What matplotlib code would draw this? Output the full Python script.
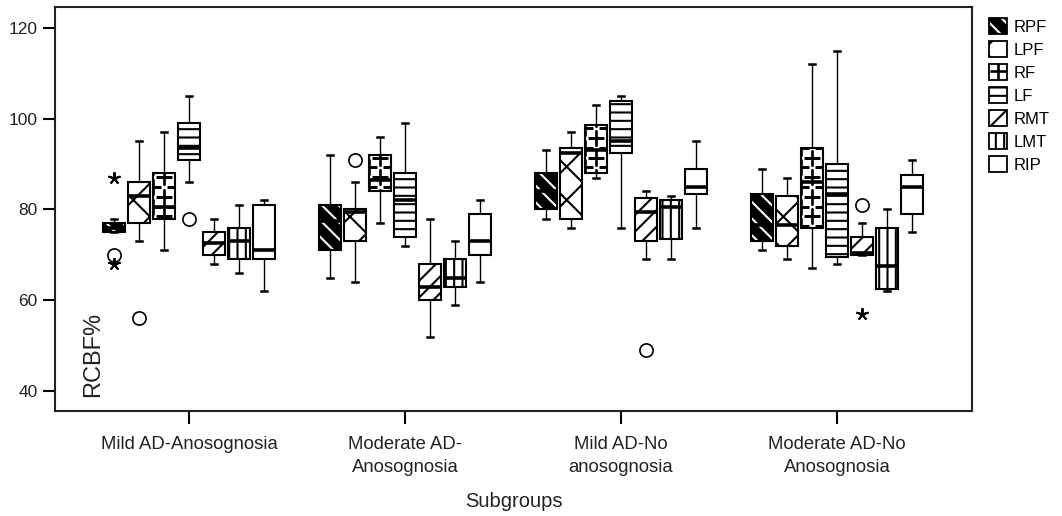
import numpy as np
import matplotlib
matplotlib.use("Agg")
import matplotlib.pyplot as plt
from matplotlib.patches import Patch, PathPatch
from matplotlib.lines import Line2D

plt.rcParams["font.family"] = ["Liberation Sans", "DejaVu Sans"]
plt.rcParams["hatch.linewidth"] = 1.5

# ---- data -------------------------------------------------------------
subgroups = ["Mild AD-Anosognosia", "Moderate AD-\nAnosognosia",
             "Mild AD-No\nanosognosia", "Moderate AD-No\nAnosognosia"]
regions = ["RPF", "LPF", "RF", "LF", "RMT", "LMT", "RIP"]

# rows follow `regions`, columns follow `subgroups`
lower_whisker = [[75, 65, 78, 71],
                 [73, 64, 76, 69],
                 [71, 77, 87, 67],
                 [86, 72, 76, 68],
                 [68, 52, 69, 70],
                 [66, 59, 69, 62],
                 [62, 64, 76, 75]]
q1 = [[75, 71, 80, 73],
      [77, 73, 78, 72],
      [78, 84, 88, 76],
      [91, 74, 92.5, 69.5],
      [70, 60, 73, 70],
      [69, 63, 73.5, 62.5],
      [69, 70, 83.5, 79]]
median = [[76, 77.5, 84, 76.5],
          [83, 79.5, 92.5, 76.5],
          [80.5, 86.5, 93, 86],
          [93.5, 82, 95, 83.5],
          [72.5, 63, 79.5, 70.5],
          [73, 65, 80.5, 67.5],
          [71, 73, 85, 85]]
q3 = [[77, 81, 88, 83.5],
      [86, 80, 93.5, 83],
      [88, 92, 98.5, 93.5],
      [99, 88, 104, 90],
      [75, 68, 82.5, 74],
      [76, 69, 82, 76],
      [81, 79, 89, 87.5]]
upper_whisker = [[78, 92, 93, 89],
                 [95, 86, 97, 87],
                 [97, 96, 103, 112],
                 [105, 99, 105, 115],
                 [78, 78, 84, 77],
                 [81, 73, 83, 80],
                 [82, 82, 95, 91]]

# outliers: (subgroup index, region, value)
outliers_circle = [(0, "RPF", 70), (0, "LPF", 56), (0, "LF", 78),
                   (1, "LPF", 91), (2, "RMT", 49), (3, "RMT", 81)]
outliers_extreme = [(0, "RPF", 87), (0, "RPF", 68), (3, "RMT", 57)]

# ---- styling ----------------------------------------------------------
# face colour, hatch, hatch colour
fills = {
    "RPF": ("black", "\\\\", "white"),
    "LPF": ("white", "x", "black"),
    "RF": ("white", None, "black"),
    "LF": ("white", "--", "black"),
    "RMT": ("white", "//", "black"),
    "LMT": ("white", "||", "black"),
    "RIP": ("white", None, "black"),
}

step = 0.1157
box_w = 0.1
group_x = np.arange(1, len(subgroups) + 1)
offsets = (np.arange(len(regions)) - (len(regions) - 1) / 2) * step

fig = plt.figure(figsize=(10.62, 5.16), dpi=100)
ax = fig.add_axes([55 / 1062, 1 - 411 / 516, 917 / 1062, 404 / 516])

plus_pitch = 4.3
plus_phase = 78.5
plus_style = dict(ls="none", marker="+", ms=11, mew=1.9, color="black")

for k, reg in enumerate(regions):
    stats = []
    for g in range(len(subgroups)):
        stats.append(dict(med=median[k][g], q1=q1[k][g], q3=q3[k][g],
                          whislo=lower_whisker[k][g], whishi=upper_whisker[k][g],
                          fliers=[]))
    face, hatch, hcol = fills[reg]
    pos = group_x + offsets[k]
    res = ax.bxp(stats, positions=pos, widths=box_w, patch_artist=True,
                 showfliers=False, capwidths=0.03, manage_ticks=False,
                 boxprops=dict(facecolor=face, edgecolor=hcol, hatch=hatch, linewidth=0),
                 whiskerprops=dict(color="black", linewidth=1.0),
                 capprops=dict(color="black", linewidth=1.8),
                 medianprops=dict(color="black", linewidth=2.6, solid_capstyle="butt"))
    for w in res["whiskers"] + res["caps"]:
        w.set_zorder(1.5)
    for m in res["medians"]:
        m.set_zorder(4)
    for g, box in enumerate(res["boxes"]):
        box.set_zorder(2)
        ax.add_patch(PathPatch(box.get_path(), fill=False, edgecolor="black",
                               linewidth=1.5, zorder=3, transform=box.get_transform()))
        if reg == "RF":
            lo, hi = q1[k][g], q3[k][g]
            j0 = np.floor((lo - plus_phase) / plus_pitch) - 1
            j1 = np.ceil((hi - plus_phase) / plus_pitch) + 1
            ys = plus_phase + np.arange(j0, j1 + 1) * plus_pitch
            for xs, yy in ((np.full_like(ys, pos[g]), ys),
                           (np.full_like(ys, pos[g] - box_w / 2), ys + plus_pitch / 2),
                           (np.full_like(ys, pos[g] + box_w / 2), ys + plus_pitch / 2)):
                ln, = ax.plot(xs, yy, zorder=2.5, **plus_style)
                ln.set_clip_path(box)

ridx = {r: i for i, r in enumerate(regions)}
for g, reg, v in outliers_circle:
    ax.plot(group_x[g] + offsets[ridx[reg]], v, ls="none", marker="o", ms=9.5,
            mfc="white", mec="black", mew=1.2, zorder=5)
for g, reg, v in outliers_extreme:
    ax.plot(group_x[g] + offsets[ridx[reg]], v, ls="none", marker=(5, 2, 0), ms=9,
            mew=1.4, color="black", zorder=5)

# ---- axes -------------------------------------------------------------
ax.set_xlim(0.38, 4.625)
ax.set_ylim(35.6, 124.6)
ax.set_yticks([40, 60, 80, 100, 120])
ax.set_xticks(group_x)
ax.set_xticklabels(subgroups, fontsize=13.3, color="#222222", linespacing=1.5)
ax.tick_params(axis="y", labelsize=12.5, length=8.5, width=1.5, pad=4, labelcolor="#222222")
ax.tick_params(axis="x", length=9, width=1.5, pad=9)
for s in ax.spines.values():
    s.set_linewidth(1.5)
    s.set_color("#222222")
ax.set_xlabel("Subgroups", fontsize=14.5, labelpad=11, color="#222222")
ax.text((93 - 55) / 917, (411 - 397) / 404, "RCBF%", rotation=90, ha="center",
        va="bottom", fontsize=17, color="#222222", transform=ax.transAxes)

# ---- legend -----------------------------------------------------------
handles = []
for reg in regions:
    face, hatch, hcol = fills[reg]
    parts = [Patch(facecolor=face, edgecolor=hcol, hatch=hatch, linewidth=0),
             Patch(fill=False, edgecolor="black", linewidth=1.3)]
    if reg == "RF":
        parts.append(Line2D([], [], **plus_style))
    handles.append(tuple(parts))
fig.legend(handles, regions, loc="upper left", bbox_to_anchor=(989 / 1062, 1 - 18 / 516),
           frameon=False, fontsize=12, handlelength=1.1, handleheight=1.1,
           handletextpad=0.35, labelspacing=0.38, borderpad=0, borderaxespad=0,
           numpoints=1)

fig.savefig("out.png", dpi=100)
